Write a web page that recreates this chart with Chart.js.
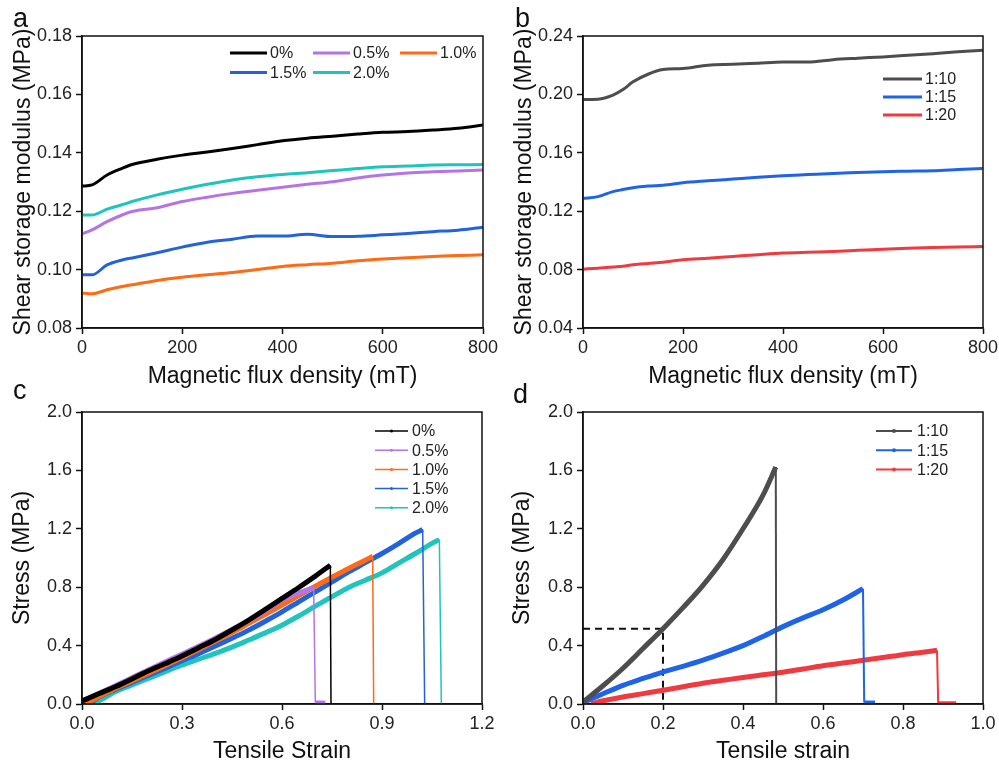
<!DOCTYPE html>
<html>
<head>
<meta charset="utf-8">
<script src="https://cdn.jsdelivr.net/npm/chart.js@4.4.1/dist/chart.umd.min.js"></script>
<style>
  body { margin: 0; background: #fff; }
  #wrap { position: relative; width: 999px; height: 765px; overflow: hidden; background: #fff; }
  canvas { position: absolute; }
  .tag { position: absolute; font: 27px 'Liberation Sans', Arial, sans-serif; line-height: 27px; color: #111; }
</style>
</head>
<body>
<div id="wrap">
  <canvas id="chart-a" width="499" height="395" style="left:0;top:0"></canvas>
  <canvas id="chart-b" width="509" height="395" style="left:490px;top:0"></canvas>
  <canvas id="chart-c" width="499" height="385" style="left:0;top:380px"></canvas>
  <canvas id="chart-d" width="509" height="385" style="left:490px;top:380px"></canvas>
  <div class="tag" style="left:13px;top:5px">a</div>
  <div class="tag" style="left:515px;top:5px">b</div>
  <div class="tag" style="left:13px;top:377px">c</div>
  <div class="tag" style="left:513px;top:381px">d</div>
</div>
<script>
// Panel a: shear storage modulus vs field, filler content
const fieldA = [0, 20, 50, 80, 100, 150, 200, 250, 300, 350, 400, 450, 500, 550, 600, 650, 700, 750, 800];
const labelsA = ['0%', '0.5%', '1.0%', '1.5%', '2.0%'];
const modA0 = [0.1286, 0.129, 0.1324, 0.1347, 0.136, 0.1378, 0.1392, 0.1403, 0.1415, 0.1428, 0.1441, 0.145, 0.1457, 0.1464, 0.147, 0.1473, 0.1478, 0.1484, 0.1495];
const modA05 = [0.1122, 0.1136, 0.1164, 0.1187, 0.1199, 0.1212, 0.1233, 0.1248, 0.1261, 0.1272, 0.1282, 0.1292, 0.1301, 0.1314, 0.1324, 0.1331, 0.1335, 0.1338, 0.1341];
const modA10 = [0.092, 0.0917, 0.0931, 0.0942, 0.0948, 0.0963, 0.0974, 0.0982, 0.099, 0.1, 0.1011, 0.1017, 0.1022, 0.103, 0.1036, 0.1041, 0.1045, 0.1048, 0.1051];
const modA15 = [0.0982, 0.0982, 0.1016, 0.1033, 0.104, 0.1058, 0.1077, 0.1094, 0.1104, 0.1115, 0.1115, 0.1121, 0.1113, 0.1114, 0.1119, 0.1124, 0.113, 0.1135, 0.1145];
const modA20 = [0.1187, 0.1187, 0.1207, 0.1222, 0.1233, 0.1256, 0.1275, 0.1292, 0.1307, 0.1318, 0.1326, 0.1332, 0.1339, 0.1346, 0.1352, 0.1355, 0.1358, 0.1359, 0.136];

// Panel b: shear storage modulus vs field, mixing ratio
const fieldB = [0, 30, 60, 80, 100, 130, 160, 200, 250, 300, 350, 400, 450, 500, 550, 600, 650, 700, 750, 800];
const labelsB = ['1:10', '1:15', '1:20'];
const modB10 = [0.1965, 0.1967, 0.1995, 0.2033, 0.2086, 0.2138, 0.217, 0.2177, 0.22, 0.2206, 0.2214, 0.2222, 0.2222, 0.2238, 0.2248, 0.2257, 0.2268, 0.2279, 0.2292, 0.2302];
const modB15 = [0.1288, 0.13, 0.1334, 0.1348, 0.1361, 0.1372, 0.1378, 0.1395, 0.1408, 0.142, 0.1432, 0.1443, 0.1451, 0.1459, 0.1465, 0.1471, 0.1474, 0.1477, 0.1485, 0.1493];
const modB20 = [0.0803, 0.081, 0.0818, 0.0823, 0.0833, 0.0842, 0.085, 0.0867, 0.0878, 0.089, 0.0902, 0.0913, 0.0919, 0.0924, 0.0932, 0.094, 0.0946, 0.0951, 0.0955, 0.0958];

// Panel c: stress-strain, filler content (last points = break drop and tail)
const strainC0 = [0, 0.05, 0.1, 0.15, 0.2, 0.25, 0.3, 0.35, 0.4, 0.45, 0.5, 0.55, 0.6, 0.65, 0.7, 0.745, 0.747];
const stressC0 = [0.02, 0.07, 0.118, 0.172, 0.228, 0.277, 0.328, 0.385, 0.442, 0.507, 0.575, 0.648, 0.723, 0.798, 0.876, 0.951, 0];
const strainC05 = [0, 0.05, 0.1, 0.15, 0.2, 0.25, 0.3, 0.35, 0.4, 0.45, 0.5, 0.55, 0.6, 0.65, 0.695, 0.7, 0.73];
const stressC05 = [0.02, 0.072, 0.125, 0.18, 0.235, 0.288, 0.341, 0.395, 0.45, 0.51, 0.572, 0.64, 0.712, 0.76, 0.798, 0.01, 0.01];
const strainC10 = [0.01, 0.05, 0.1, 0.15, 0.2, 0.25, 0.3, 0.35, 0.4, 0.45, 0.5, 0.55, 0.6, 0.65, 0.7, 0.75, 0.8, 0.85, 0.872, 0.875];
const stressC10 = [0, 0.05, 0.107, 0.158, 0.21, 0.263, 0.317, 0.373, 0.431, 0.49, 0.552, 0.614, 0.677, 0.742, 0.807, 0.868, 0.928, 0.985, 1.012, 0];
const strainC15 = [0.02, 0.05, 0.1, 0.15, 0.2, 0.25, 0.3, 0.35, 0.4, 0.45, 0.5, 0.55, 0.6, 0.65, 0.7, 0.75, 0.8, 0.85, 0.9, 0.95, 1.0, 1.022, 1.028];
const stressC15 = [0, 0.045, 0.1, 0.148, 0.198, 0.246, 0.296, 0.345, 0.397, 0.45, 0.506, 0.567, 0.631, 0.7, 0.768, 0.836, 0.905, 0.968, 1.031, 1.099, 1.17, 1.195, 0];
const strainC20 = [0.03, 0.05, 0.1, 0.15, 0.2, 0.25, 0.3, 0.35, 0.4, 0.45, 0.5, 0.55, 0.6, 0.65, 0.7, 0.75, 0.8, 0.85, 0.9, 0.95, 1.0, 1.05, 1.072, 1.078];
const stressC20 = [0, 0.02, 0.084, 0.13, 0.176, 0.222, 0.267, 0.307, 0.347, 0.39, 0.438, 0.487, 0.54, 0.603, 0.67, 0.735, 0.798, 0.848, 0.898, 0.965, 1.031, 1.1, 1.126, 0];

// Panel d: stress-strain, mixing ratio
const strainD10 = [0, 0.05, 0.1, 0.15, 0.2, 0.25, 0.3, 0.35, 0.4, 0.45, 0.482, 0.483];
const stressD10 = [0.014, 0.125, 0.245, 0.38, 0.516, 0.66, 0.813, 0.99, 1.2, 1.43, 1.623, 0];
const strainD15 = [0, 0.05, 0.1, 0.15, 0.2, 0.25, 0.3, 0.35, 0.4, 0.45, 0.5, 0.55, 0.6, 0.65, 0.7, 0.703, 0.73];
const stressD15 = [0.01, 0.07, 0.128, 0.175, 0.219, 0.258, 0.3, 0.348, 0.4, 0.463, 0.53, 0.59, 0.645, 0.712, 0.79, 0.01, 0.01];
const strainD20 = [0.02, 0.05, 0.1, 0.15, 0.2, 0.25, 0.3, 0.35, 0.4, 0.45, 0.5, 0.55, 0.6, 0.65, 0.7, 0.75, 0.8, 0.85, 0.885, 0.888, 0.933];
const stressD20 = [0, 0.022, 0.048, 0.071, 0.094, 0.118, 0.142, 0.162, 0.182, 0.2, 0.218, 0.24, 0.262, 0.281, 0.299, 0.318, 0.338, 0.355, 0.368, 0.005, 0.005];
const guideStrain = [0, 0.2, 0.2];
const guideStress = [0.516, 0.516, 0];

const FONT = "'Liberation Sans', Arial, sans-serif";
Chart.defaults.font.family = FONT;
Chart.defaults.color = '#222';

const pts = (xs, ys) => xs.map((x, i) => ({ x: x, y: ys[i] }));

// box around the plot area
const frame = {
  id: 'frame',
  afterDraw(chart) {
    const { ctx, chartArea: a } = chart;
    ctx.save();
    ctx.strokeStyle = '#111';
    ctx.lineWidth = 1.5;
    ctx.strokeRect(a.left, a.top, a.right - a.left, a.bottom - a.top);
    ctx.restore();
  }
};

// legend drawn inside the plot area
const inLegend = {
  id: 'inLegend',
  afterDraw(chart, args, o) {
    const { ctx, chartArea } = chart;
    ctx.save();
    ctx.font = '16px ' + FONT;
    ctx.textBaseline = 'middle';
    let i = 0;
    chart.data.datasets.forEach(ds => {
      if (!ds.label) return;
      const col = i % o.cols.length;
      const row = Math.floor(i / o.cols.length);
      const x = chartArea.left + o.x + o.cols[col];
      const y = chartArea.top + o.y + row * o.rowH;
      ctx.strokeStyle = ds.borderColor;
      ctx.lineWidth = o.lineWidth;
      ctx.beginPath();
      ctx.moveTo(x, y);
      ctx.lineTo(x + o.len, y);
      ctx.stroke();
      if (o.dot) {
        ctx.fillStyle = ds.borderColor;
        ctx.beginPath();
        ctx.arc(x + o.len / 2, y, o.dot, 0, Math.PI * 2);
        ctx.fill();
      }
      ctx.fillStyle = '#222';
      ctx.fillText(ds.label, x + o.len + o.gap, y + 1);
      i++;
    });
    ctx.restore();
  }
};

function axis(horizontal, min, max, step, dec, title, size, titlePad, tickPad) {
  return {
    type: 'linear',
    min: min,
    max: max,
    ticks: { stepSize: step, font: { size: 18 }, color: '#222', padding: tickPad, callback: v => v.toFixed(dec) },
    grid: { drawOnChartArea: false, tickLength: 6, tickColor: '#111', tickWidth: 1.5 },
    border: { color: '#111', width: 1.5 },
    title: { display: true, text: title, font: { size: 23 }, color: '#111', padding: titlePad },
    afterFit: s => {
      if (horizontal) {
        s.height = size;
        s.paddingLeft = 0;
        s.paddingRight = 0;
      } else {
        s.width = size;
        s.paddingTop = 0;
        s.paddingBottom = 0;
      }
    }
  };
}

function makeChart(id, datasets, xAxis, yAxis, padding, legend) {
  return new Chart(document.getElementById(id), {
    type: 'line',
    data: { datasets: datasets },
    options: {
      responsive: false,
      animation: false,
      layout: { padding: padding },
      elements: { point: { radius: 0 } },
      scales: { x: xAxis, y: yAxis },
      plugins: { legend: { display: false }, tooltip: { enabled: false }, inLegend: legend }
    },
    plugins: [frame, inLegend]
  });
}

// smooth modulus lines
function modLine(label, xs, ys, color) {
  return { label: label, data: pts(xs, ys), borderColor: color, borderWidth: 3, cubicInterpolationMode: 'monotone', fill: false };
}

// stress curve up to break (thick, smooth) plus the drop at break (thin, unlabelled)
function stressLines(label, xs, ys, color, thick, dropWidth) {
  let k = ys.length - 1;
  for (let i = 0; i < ys.length - 1; i++) {
    if (ys[i + 1] < ys[i] - 0.2) { k = i; break; }
  }
  const curve = { label: label, data: pts(xs.slice(0, k + 1), ys.slice(0, k + 1)), borderColor: color, borderWidth: thick, cubicInterpolationMode: 'monotone', fill: false };
  const drop = {
    label: '', data: pts(xs.slice(k), ys.slice(k)), borderColor: color, borderWidth: dropWidth, tension: 0, fill: false,
    segment: { borderWidth: c => (c.p0.parsed.y - c.p1.parsed.y > 0.2 ? dropWidth : 4) }
  };
  return [curve, drop];
}

const colA = ['#000000', '#B574E6', '#FF6A13', '#2262DE', '#1FC4BD'];
const colB = ['#4D4D4D', '#1F64E8', '#F03A3F'];

// Panel a
makeChart('chart-a', [
  modLine(labelsA[0], fieldA, modA0, colA[0]),
  modLine(labelsA[1], fieldA, modA05, colA[1]),
  modLine(labelsA[2], fieldA, modA10, colA[2]),
  modLine(labelsA[3], fieldA, modA15, colA[3]),
  modLine(labelsA[4], fieldA, modA20, colA[4])
],
  axis(true, 0, 800, 200, 0, 'Magnetic flux density (mT)', 67, 5, 3),
  axis(false, 0.08, 0.18, 0.02, 2, 'Shear storage modulus (MPa)', 82, 10, 4),
  { top: 36, right: 16, left: 0, bottom: 0 },
  { x: 148, y: 17, cols: [0, 83, 170], rowH: 19.5, len: 37, gap: 3, lineWidth: 3 });

// Panel b
makeChart('chart-b', [
  modLine(labelsB[0], fieldB, modB10, colB[0]),
  modLine(labelsB[1], fieldB, modB15, colB[1]),
  modLine(labelsB[2], fieldB, modB20, colB[2])
],
  axis(true, 0, 800, 200, 0, 'Magnetic flux density (mT)', 67, 5, 3),
  axis(false, 0.04, 0.24, 0.04, 2, 'Shear storage modulus (MPa)', 93, 21, 4),
  { top: 36, right: 16, left: 0, bottom: 0 },
  { x: 300, y: 43, cols: [0], rowH: 18, len: 39, gap: 3, lineWidth: 3 });

// Panel c
makeChart('chart-c', [
  ...stressLines(labelsA[0], strainC0, stressC0, colA[0], 5, 1.5),
  ...stressLines(labelsA[1], strainC05, stressC05, colA[1], 5, 1.5),
  ...stressLines(labelsA[2], strainC10, stressC10, colA[2], 5, 1.5),
  ...stressLines(labelsA[3], strainC15, stressC15, colA[3], 5, 1.5),
  ...stressLines(labelsA[4], strainC20, stressC20, colA[4], 5, 1.5)
],
  axis(true, 0, 1.2, 0.3, 1, 'Tensile Strain', 61, 0, 3),
  axis(false, 0, 2, 0.4, 1, 'Stress (MPa)', 82, 9, 4),
  { top: 32, right: 17, left: 0, bottom: 0 },
  { x: 293, y: 19, cols: [0], rowH: 19.2, len: 33, gap: 4, lineWidth: 1.5, dot: 1.5 });

// Panel d
makeChart('chart-d', [
  ...stressLines(labelsB[0], strainD10, stressD10, colB[0], 5, 2),
  ...stressLines(labelsB[1], strainD15, stressD15, colB[1], 5, 2),
  ...stressLines(labelsB[2], strainD20, stressD20, colB[2], 5, 2),
  { label: '', data: pts(guideStrain, guideStress), borderColor: '#111', borderWidth: 2, borderDash: [7, 5], tension: 0, fill: false }
],
  axis(true, 0, 1.0, 0.2, 1, 'Tensile strain', 61, 0, 3),
  axis(false, 0, 2, 0.4, 1, 'Stress (MPa)', 93, 19, 4),
  { top: 32, right: 16, left: 0, bottom: 0 },
  { x: 293, y: 19, cols: [0], rowH: 19.2, len: 36, gap: 5, lineWidth: 2, dot: 2 });
</script>
</body>
</html>
